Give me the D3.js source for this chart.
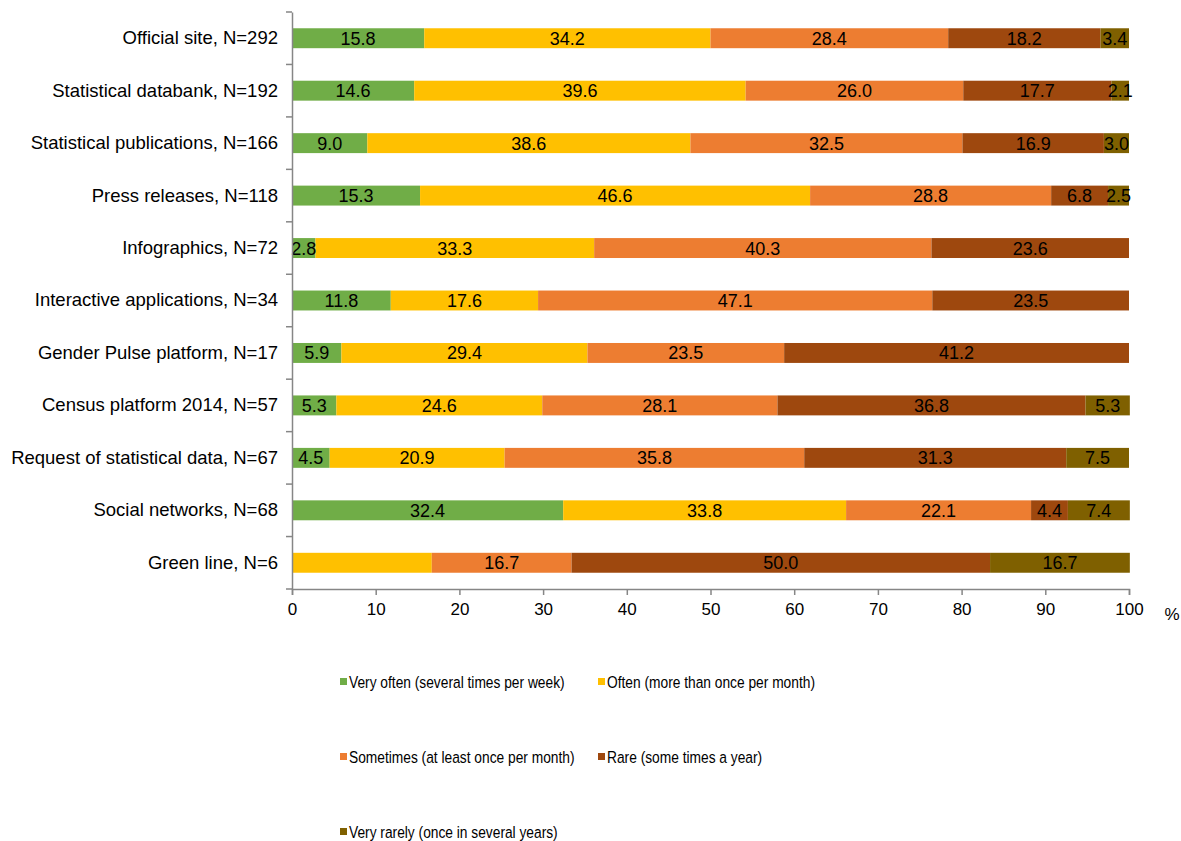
<!DOCTYPE html>
<html>
<head>
<meta charset="utf-8">
<script src="https://cdn.jsdelivr.net/npm/d3@7"></script>
<style>
  body { margin: 0; background: #fff; }
  text { font-family: "Liberation Sans", Arial, sans-serif; }
</style>
</head>
<body>
<div id="chart"></div>
<script>
// Categories (top to bottom)
const categories = [
    "Official site, N=292",
    "Statistical databank, N=192",
    "Statistical publications, N=166",
    "Press releases, N=118",
    "Infographics, N=72",
    "Interactive applications, N=34",
    "Gender Pulse platform, N=17",
    "Census platform 2014, N=57",
    "Request of statistical data, N=67",
    "Social networks, N=68",
    "Green line, N=6"
];

const seriesNames = [
    "Very often (several times per week)",
    "Often (more than once per month)",
    "Sometimes (at least once per month)",
    "Rare (some times a year)",
    "Very rarely (once in several years)"
];

const seriesColors = ["#70AD47", "#FFC000", "#ED7D31", "#9E480E", "#7F6000"];

// Values per series, one entry per category
const veryOften  = [15.8, 14.6, 9.0, 15.3, 2.8, 11.8, 5.9, 5.3, 4.5, 32.4, 0];
const often      = [34.2, 39.6, 38.6, 46.6, 33.3, 17.6, 29.4, 24.6, 20.9, 33.8, 16.7];
const sometimes  = [28.4, 26.0, 32.5, 28.8, 40.3, 47.1, 23.5, 28.1, 35.8, 22.1, 16.7];
const rare       = [18.2, 17.7, 16.9, 6.8, 23.6, 23.5, 41.2, 36.8, 31.3, 4.4, 50.0];
const veryRarely = [3.4, 2.1, 3.0, 2.5, 0, 0, 0, 5.3, 7.5, 7.4, 16.7];

// labels not shown in the original
const hiddenLabels = [["Green line, N=6", 1]];

const xTicks = [0, 10, 20, 30, 40, 50, 60, 70, 80, 90, 100];

const seriesValues = [veryOften, often, sometimes, rare, veryRarely];

const width = 1181, height = 841;
const margin = {top: 12, left: 292, right: 52, bottom: 252};
const plotW = width - margin.left - margin.right;
const plotH = height - margin.top - margin.bottom;

const svg = d3.select("#chart")
    .append("svg")
    .attr("width", width)
    .attr("height", height);

const g = svg.append("g")
    .attr("transform", `translate(${margin.left},${margin.top})`);

const x = d3.scaleLinear().domain([0, 100]).range([0, plotW]);
const y = d3.scaleBand().domain(categories).range([0, plotH]).paddingInner(0.62).paddingOuter(0.31);

// Build stacked rows
const rows = categories.map((c, i) => {
    const r = {cat: c};
    seriesValues.forEach((s, j) => r["s" + j] = s[i]);
    return r;
});
const stack = d3.stack().keys(seriesValues.map((s, j) => "s" + j));
const stacked = stack(rows);

stacked.forEach((layer, j) => {
    g.selectAll(".bar" + j)
        .data(layer.filter(d => d[1] - d[0] > 0))
        .enter()
        .append("rect")
        .attr("x", d => x(d[0]))
        .attr("y", d => y(d.data.cat))
        .attr("width", d => x(d[1]) - x(d[0]))
        .attr("height", y.bandwidth())
        .attr("fill", seriesColors[j]);
});

// Value labels
stacked.forEach((layer, j) => {
    g.selectAll(".lab" + j)
        .data(layer.filter(d => d[1] - d[0] > 0 &&
            !hiddenLabels.some(h => h[0] === d.data.cat && h[1] === j)))
        .enter()
        .append("text")
        .attr("x", d => x((d[0] + d[1]) / 2))
        .attr("y", d => y(d.data.cat) + y.bandwidth() / 2)
        .attr("dy", "0.36em")
        .attr("text-anchor", "middle")
        .style("font-size", "18px")
        .attr("fill", "#000")
        .text(d => (d[1] - d[0]).toFixed(1));
});

// Y axis
const yAxis = g.append("g")
    .call(d3.axisLeft(y).tickSize(0).tickPadding(14));
yAxis.select(".domain").attr("stroke", "#868686").attr("stroke-width", 1.5);
yAxis.selectAll("text").style("font-size", "18.5px").attr("fill", "#000");

// band boundary ticks
const bounds = categories.map(c => y(c) - y.step() * y.paddingInner() / 2).concat([plotH]);
g.selectAll(".ytick")
    .data(bounds)
    .enter()
    .append("line")
    .attr("x1", -6).attr("x2", 0)
    .attr("y1", d => d).attr("y2", d => d)
    .attr("stroke", "#868686")
    .attr("stroke-width", 1.5);

// X axis
const xAxis = g.append("g")
    .attr("transform", `translate(0,${plotH})`)
    .call(d3.axisBottom(x).tickValues(xTicks).tickSizeOuter(0).tickSize(6).tickPadding(8));
xAxis.select(".domain").attr("stroke", "#868686").attr("stroke-width", 1.5);
xAxis.selectAll("line").attr("stroke", "#868686").attr("stroke-width", 1.5);
xAxis.selectAll("text").style("font-size", "17px").attr("fill", "#000");

g.append("text")
    .attr("x", plotW + 43)
    .attr("y", plotH + 31)
    .style("font-size", "17px")
    .attr("text-anchor", "middle")
    .text("%");

// Legend
const legendPos = [[340, 682], [598, 682], [340, 757], [598, 757], [340, 832]];
const legend = svg.selectAll(".legend")
    .data(seriesNames)
    .enter()
    .append("g")
    .attr("transform", (d, i) => `translate(${legendPos[i][0]},${legendPos[i][1]})`);

legend.append("rect")
    .attr("x", 0).attr("y", -4)
    .attr("width", 7).attr("height", 7)
    .attr("fill", (d, i) => seriesColors[i]);

// legend text is condensed in the original
legend.append("text")
    .attr("transform", "translate(9,0) scale(0.81,1)")
    .attr("dy", "0.36em")
    .style("font-size", "17px")
    .text(d => d);
</script>
</body>
</html>
